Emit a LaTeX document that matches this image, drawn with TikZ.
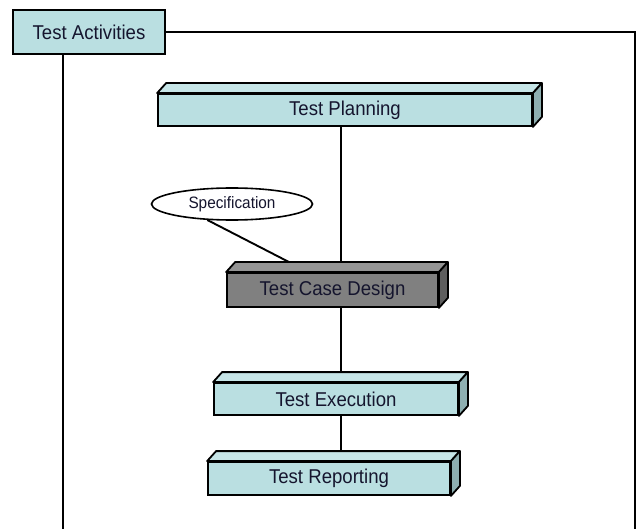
\documentclass[tikz,border=0pt]{standalone}
\usepackage{fontspec}
\setmainfont[FakeStretch=0.93]{Liberation Sans}
\usetikzlibrary{shapes.geometric,positioning,calc}
\definecolor{slabfront}{HTML}{BADFE1}
\definecolor{slabtop}{HTML}{C6E5E7}
\definecolor{slabside}{HTML}{8EAFB1}
\definecolor{darkfront}{HTML}{808080}
\definecolor{darktop}{HTML}{949494}
\definecolor{darkside}{HTML}{5E5E5E}
\definecolor{labeltext}{HTML}{15152E}
\tikzset{
  slab/.style={draw, line width=1.8pt, fill=slabfront, inner sep=0pt,
    font=\fontsize{20}{22}\selectfont, text=labeltext},
  frameline/.style={line width=2.2pt},
  link/.style={line width=1.9pt}
}
% top and side faces of a slab
\newcommand{\slabdepth}[3]{%
  \filldraw[line width=1.8pt, fill=#2, line join=round]
    (#1.north west) -- ++(9,-10) -- ($(#1.north east)+(9,-10)$) -- (#1.north east) -- cycle;
  \filldraw[line width=1.8pt, fill=#3, line join=round]
    (#1.north east) -- ++(9,-10) -- ($(#1.south east)+(9,-10)$) -- (#1.south east) -- cycle;
}
\begin{document}
\begin{tikzpicture}[x=1pt,y=-1pt]
  \useasboundingbox (0,0) rectangle (637,529);
  % Frame
  \node[slab, minimum width=152pt, minimum height=44pt] (activities) at (89,32) {Test Activities};
  \coordinate (frameleft) at (63,529);
  \coordinate (framecorner) at (635,32);
  \coordinate (frameright) at (635,529);
  \draw[frameline] (activities.east) -- (framecorner) -- (frameright);
  \draw[frameline] (activities.south -| frameleft) -- (frameleft);
  % Slabs
  \node[slab, minimum width=374pt, minimum height=32pt] (planning) at (345,110) {Test Planning};
  \slabdepth{planning}{slabtop}{slabside}
  \node[slab, fill=darkfront, minimum width=211pt, minimum height=34pt] (design) at (332.5,290) {Test Case Design};
  \slabdepth{design}{darktop}{darkside}
  \node[slab, minimum width=244pt, minimum height=32pt] (execution) at (336,399) {Test Execution};
  \slabdepth{execution}{slabtop}{slabside}
  \node[slab, minimum width=242pt, minimum height=33pt] (reporting) at (329,478.5) {Test Reporting};
  \slabdepth{reporting}{slabtop}{slabside}
  % Spine
  \coordinate (spine) at (341,0);
  \draw[link] (planning.south -| spine) -- ([yshift=10pt]design.north -| spine);
  \draw[link] (design.south -| spine) -- ([yshift=10pt]execution.north -| spine);
  \draw[link] (execution.south -| spine) -- ([yshift=10pt]reporting.north -| spine);
  % Specification
  \node[ellipse, draw, line width=1.6pt, fill=white, minimum width=161pt, minimum height=32pt,
    inner sep=0pt, font=\fontsize{16.5}{18}\selectfont, text=labeltext] (spec) at (232,204) {Specification};
  \coordinate (specfoot) at ([shift={(63,-10)}]design.north west);
  \draw[link] (spec.213) -- (specfoot);
\end{tikzpicture}
\end{document}
